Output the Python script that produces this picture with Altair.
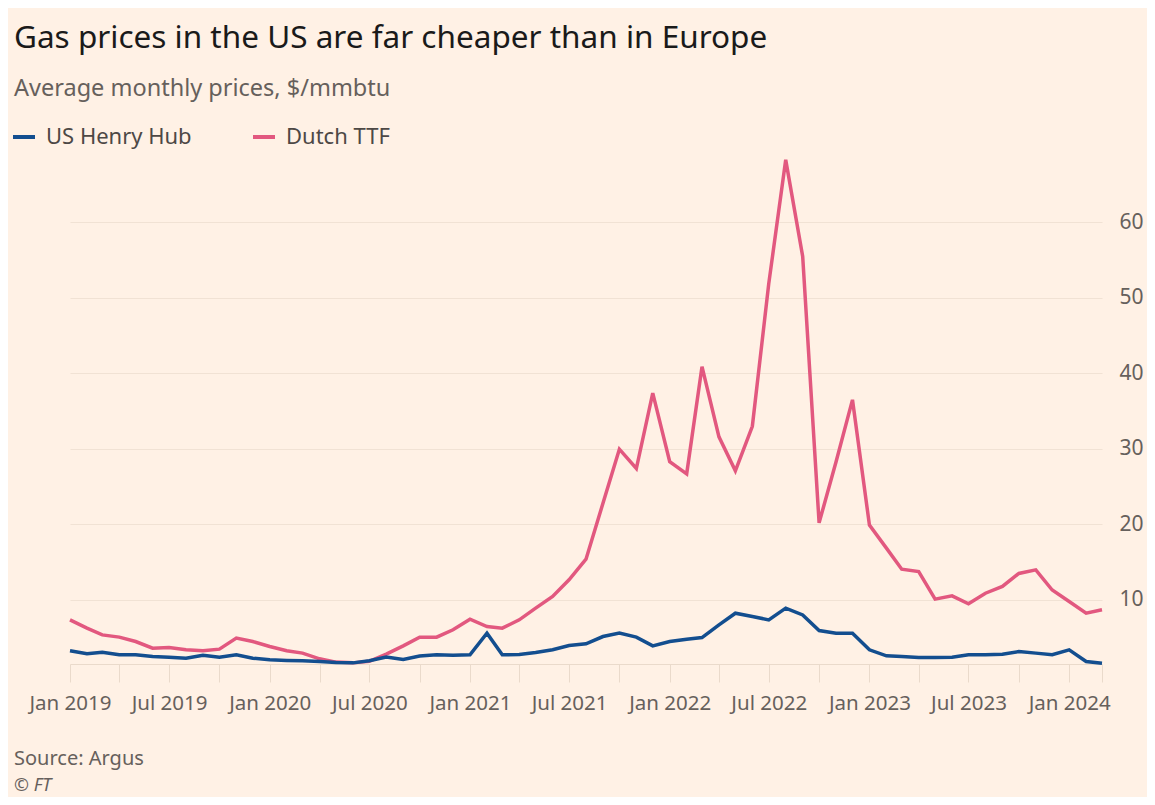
import altair as alt
import pandas as pd

# ---------------- data ----------------
months = pd.date_range("2019-01-01", periods=63, freq="MS")  # Jan 2019 .. Mar 2024

henry_hub = [
    3.25, 2.85, 3.07, 2.72, 2.72, 2.49, 2.41, 2.27, 2.67, 2.41, 2.72, 2.27,   # 2019
    2.05, 1.96, 1.92, 1.83, 1.70, 1.65, 1.92, 2.41, 2.10, 2.55, 2.72, 2.67,   # 2020
    2.72, 5.59, 2.72, 2.76, 3.02, 3.38, 3.95, 4.17, 5.14, 5.59, 5.06, 3.90,   # 2021
    4.48, 4.79, 5.00, 6.69, 8.23, 7.79, 7.35, 8.90, 8.00, 5.94, 5.59, 5.59,   # 2022
    3.38, 2.58, 2.49, 2.36, 2.36, 2.40, 2.72, 2.72, 2.80, 3.15, 2.94, 2.72,   # 2023
    3.38, 1.83, 1.61,                                                         # 2024
]

dutch_ttf = [
    7.35, 6.25, 5.36, 5.06, 4.48, 3.60, 3.70, 3.38, 3.25, 3.47, 4.93, 4.48,   # 2019
    3.82, 3.25, 2.94, 2.19, 1.75, 1.65, 1.85, 2.80, 3.90, 5.06, 5.06, 6.03,   # 2020
    7.44, 6.47, 6.25, 7.35, 8.90, 10.44, 12.65, 15.39, 22.8, 29.96, 27.4, 37.4,  # 2021
    28.3, 26.7, 40.9, 31.6, 27.1, 33.0, 51.9, 68.3, 55.5, 20.2, 28.3, 36.5,   # 2022
    19.9, 16.85, 14.06, 13.75, 10.09, 10.53, 9.47, 10.88, 11.77, 13.5, 13.97, 11.3,  # 2023
    9.78, 8.23, 8.68,                                                         # 2024
]

series_names = ["US Henry Hub", "Dutch TTF"]
series_colors = ["#134e8f", "#e2587f"]
y_tick_values = [10, 20, 30, 40, 50, 60]
x_tick_months = [
    "2019-01", "2019-04", "2019-07", "2019-10",
    "2020-01", "2020-04", "2020-07", "2020-10",
    "2021-01", "2021-04", "2021-07", "2021-10",
    "2022-01", "2022-04", "2022-07", "2022-10",
    "2023-01", "2023-04", "2023-07", "2023-10",
    "2024-01", "2024-03",
]
title_text = "Gas prices in the US are far cheaper than in Europe"
subtitle_text = "Average monthly prices, $/mmbtu"
source_lines = ["Source: Argus", "© FT"]

# ---------------- build table ----------------
df = pd.concat(
    [
        pd.DataFrame({"month": months, "price": henry_hub, "series": series_names[0]}),
        pd.DataFrame({"month": months, "price": dutch_ttf, "series": series_names[1]}),
    ],
    ignore_index=True,
)


def to_dt(s):
    t = pd.Timestamp(s + "-01")
    return alt.DateTime(year=t.year, month=t.month, date=1)


x_ticks = [to_dt(m) for m in x_tick_months]

FONT = "Noto Sans"
BG = "#FFF1E5"
GRID = "#f1e2d4"
AXISLINE = "#eadacb"
GREY = "#66605C"

base = alt.Chart(df).encode(
    x=alt.X(
        "month:T",
        scale=alt.Scale(domain=[to_dt("2019-01"), to_dt("2024-03")], nice=False),
        axis=alt.Axis(
            values=x_ticks,
            labelExpr="month(datum.value) % 6 == 0 ? timeFormat(datum.value, '%b %Y') : ''",
            title=None,
            grid=False,
            domainColor=AXISLINE,
            domainWidth=1,
            tickColor=AXISLINE,
            tickSize=18,
            tickWidth=1,
            labelPadding=11,
            labelFontSize=20.5,
            labelFont=FONT,
            labelColor=GREY,
            labelOverlap=False,
            labelFlush=False,
        ),
    ),
    y=alt.Y(
        "price:Q",
        scale=alt.Scale(domain=[1.5, 70], nice=False, zero=False),
        axis=alt.Axis(
            orient="right",
            values=y_tick_values,
            title=None,
            domain=False,
            ticks=False,
            labelPadding=17,
            labelAlign="left",
            labelFontSize=21,
            labelFont=FONT,
            labelColor=GREY,
            gridColor=GRID,
            gridWidth=1.2,
        ),
    ),
    color=alt.Color(
        "series:N",
        scale=alt.Scale(domain=series_names, range=series_colors),
        legend=alt.Legend(
            title=None,
            orient="none",
            legendX=-59,
            legendY=-23,
            direction="horizontal",
            symbolType="stroke",
            symbolStrokeWidth=4,
            symbolSize=484,
            labelFontSize=22,
            labelFont=FONT,
            labelColor="#4d4845",
            labelOffset=9,
            columnPadding=53,
        ),
    ),
)

ttf_line = base.transform_filter(alt.datum.series == series_names[1]).mark_line(strokeWidth=3.5)
hh_line = base.transform_filter(alt.datum.series == series_names[0]).mark_line(strokeWidth=3.5)

source_text = alt.Chart(pd.DataFrame({"t": [source_lines[0]]})).mark_text(
    align="left", baseline="middle", font=FONT, fontSize=20, color=GREY
).encode(text="t:N", x=alt.value(-56), y=alt.value(612))

ft_text = alt.Chart(pd.DataFrame({"t": [source_lines[1]]})).mark_text(
    align="left", baseline="middle", font=FONT, fontSize=18, fontStyle="italic", color=GREY
).encode(text="t:N", x=alt.value(-56), y=alt.value(639))

chart = (
    alt.layer(ttf_line, hh_line, source_text, ft_text)
    .properties(
        width=1032,
        height=517,
        padding={"left": 62, "top": 139, "right": 45, "bottom": 133},
        autosize=alt.AutoSizeParams(type="none"),
        background=BG,
        title=alt.Title(
            text=title_text,
            subtitle=subtitle_text,
            anchor="start",
            frame="group",
            dx=-56,
            offset=24,
            font=FONT,
            fontSize=31.5,
            fontWeight="normal",
            color="#1a1a1a",
            subtitleFont=FONT,
            subtitleFontSize=23.5,
            subtitleColor=GREY,
            subtitlePadding=22,
        ),
    )
    .configure_view(stroke=None)
)

chart.save("out.html", embed_options={"renderer": "svg", "actions": False})
